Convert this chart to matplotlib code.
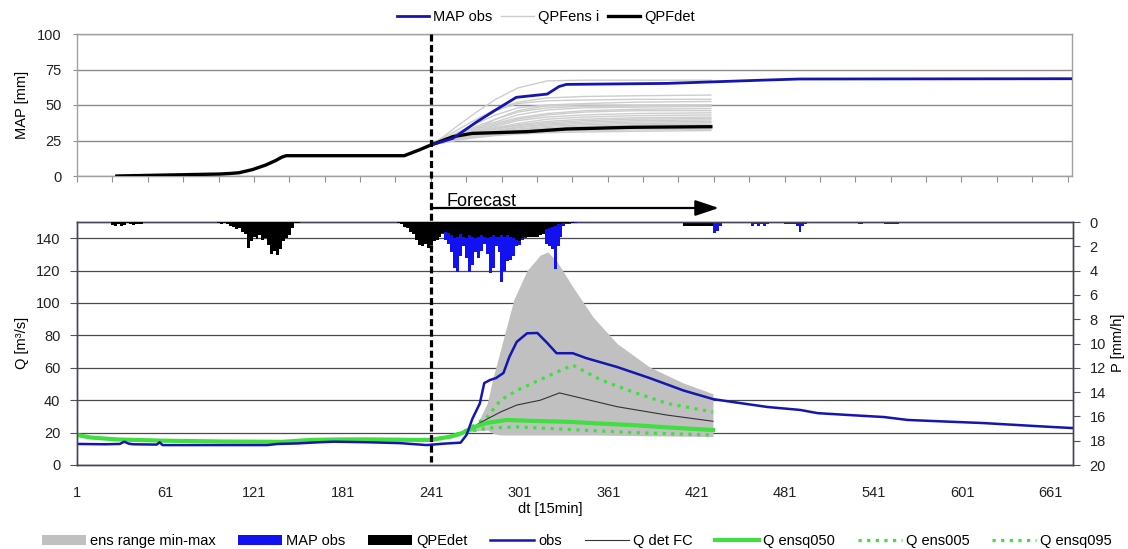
import numpy as np
import matplotlib
matplotlib.use('Agg')
import matplotlib.pyplot as plt
from matplotlib.lines import Line2D
from matplotlib.patches import Patch
import matplotlib.transforms as mtransforms

plt.rcParams['font.family'] = ['Liberation Sans', 'DejaVu Sans']

# ---------------- data: top panel (cumulative MAP, mm) ----------------
qpf_det_steps = [28, 98, 105, 111, 120, 129, 136, 140, 143, 223, 233, 241,
                 256, 269, 306, 333, 378, 431]
qpf_det_vals = [0, 1.4, 1.8, 2.3, 4.5, 7.7, 11.0, 13.3, 14.3, 14.3, 18.3, 21.8,
                27.7, 30.0, 31.2, 33.1, 34.3, 34.7]

map_cum_steps = [241, 256, 272, 285, 299, 320, 328, 333, 401, 435, 469, 491, 676]
map_cum_vals = [21.8, 26.5, 38.0, 46.5, 55.4, 57.7, 63.0, 64.5, 65.2, 66.4, 67.6, 68.3, 68.5]

ens_cum_steps = [241, 250, 260, 272, 285, 300, 320, 345, 380, 431]
ens_cum_members = [
    [22, 28, 36, 45, 54, 62, 67, 67.5, 67.5, 67.5],
    [22, 27, 33, 40, 47, 52, 55, 56, 56.5, 57],
    [22, 26, 31, 37, 43, 48, 50, 51, 52, 52.5],
    [22, 26, 30, 35, 40, 45, 48, 49, 49.5, 50],
    [22, 25.5, 29.5, 34, 38, 43, 46.5, 48, 48.5, 49],
    [22, 25, 29, 33, 37, 41, 44, 46, 47, 47.5],
    [22, 25, 28.5, 32, 36, 40, 43, 45, 46, 46],
    [22, 25, 28, 31.5, 35, 39, 41.5, 43, 44, 44.5],
    [22, 24.5, 28, 31, 34, 37, 40, 41.5, 42.5, 43],
    [22, 24.5, 27.5, 30.5, 33.5, 36, 38.5, 40, 41, 41.5],
    [22, 24.5, 27, 30, 33, 35.5, 37.5, 39, 40, 40.5],
    [22, 24, 27, 29.5, 32, 34.5, 36.5, 38, 39, 39.5],
    [22, 24, 26.5, 29, 31.5, 34, 36, 37, 38, 38.5],
    [22, 24, 26.5, 29, 31, 33, 35, 36, 37, 37.5],
    [22, 24, 26, 28.5, 30.5, 32.5, 34, 35, 36, 36.5],
    [22, 23.5, 26, 28, 30, 32, 33.5, 34.5, 35, 35.5],
    [22, 23.5, 25.5, 27.5, 29, 30.5, 31.5, 32, 32.5, 33],
    [22, 23.5, 25.5, 27, 28.5, 29.5, 30.5, 31, 31.5, 32],
    [22, 24.5, 28, 33, 40, 46, 49.5, 50, 50, 50],
    [22, 25, 30, 38, 46, 51, 53, 53.5, 54, 54],
]

# ---------------- data: bottom panel (discharge, m3/s) ----------------
obs_steps = [1, 20, 30, 33, 36, 39, 55, 57, 59, 80, 130, 137, 150, 164, 175, 200,
             220, 238, 250, 261, 265, 269, 274, 277, 281, 285, 290, 294, 299, 306,
             313, 320, 326, 337, 346, 367, 389, 412, 432, 446, 469, 491, 503, 525,
             548, 564, 593, 615, 638, 661, 676]
obs_vals = [13, 12.8, 13, 14.4, 13.2, 12.8, 12.6, 14, 12.3, 12.3, 12.3, 13, 13.3,
            14, 14.4, 14, 13.5, 12.3, 13.2, 13.8, 18.6, 28.6, 38, 50.6, 52.5, 53.7,
            56.8, 66.7, 76, 81.3, 81.5, 75, 69, 69, 66, 60.5, 53.7, 46, 40.7, 38.8,
            35.8, 34, 32, 30.8, 29.6, 27.8, 26.7, 25.9, 24.7, 23.5, 22.8]

q050_steps = [1, 10, 28, 60, 100, 140, 160, 180, 200, 230, 241, 254, 260, 265, 272,
              279, 292, 310, 333, 355, 378, 405, 432]
q050_vals = [18.5, 17, 15.8, 15, 14.5, 14.3, 15.5, 15.8, 15.8, 15.5, 15.5, 17.5, 19,
             21, 24, 26, 27.8, 27.2, 26.7, 25.6, 24.6, 23, 21.6]

q005_steps = [241, 254, 265, 279, 299, 333, 378, 432]
q005_vals = [15.5, 17.5, 20.5, 22.8, 23.5, 22, 20, 18.5]

q095_steps = [241, 254, 265, 279, 288, 299, 310, 322, 337, 356, 378, 401, 432]
q095_vals = [15.5, 17.5, 21.5, 29.6, 40, 46, 50.6, 55.6, 61.7, 52.5, 45, 38, 32.7]

qdet_steps = [241, 254, 265, 274, 288, 299, 315, 328, 344, 367, 401, 432]
qdet_vals = [15.5, 17.5, 21, 26, 32.7, 37, 40, 44.5, 41, 36, 30.8, 27]

ens_steps = [241, 254, 265, 272, 279, 283, 288, 297, 306, 315, 320, 326, 337, 351,
             367, 389, 412, 432]
ens_max = [15.5, 17.5, 21.5, 25, 38, 54, 71, 102, 120, 129.6, 131.5, 126, 110, 91,
           75, 60.5, 50.6, 44]
ens_min = [15.5, 17.5, 20, 21, 21.6, 19.5, 18.5, 18.5, 18.5, 18.5, 18.5, 18.5, 18.5,
           18.5, 18.3, 18, 17.8, 17.5]

# ---------------- data: precipitation bars (mm/h, 2-step bins) ----------------
qpe_a_start = 24
qpe_a = [0.25, 0.3, 0.2, 0.3, 0.25, 0.1, 0.2, 0.25, 0.2, 0.15, 0.2]
qpe_b_start = 96
qpe_b = [0.1, 0.15, 0.1, 0.2, 0.3, 0.4, 0.6, 0.5, 0.8, 1.0, 2.1, 1.6, 1.2, 1.4, 1.1,
         1.5, 1.3, 1.9, 2.6, 2.4, 2.7, 2.2, 1.6, 1.3, 1.1, 0.5, 0.1, 0.05]
qpe_c_start = 218
qpe_c = [0.1, 0.2, 0.4, 0.5, 0.8, 1.0, 1.5, 1.9, 2.0, 1.8, 2.1, 1.9, 1.6, 1.5, 1.2,
         0.9, 0.8, 0.9, 1.1, 1.3, 1.2, 1.0, 1.2, 1.3, 1.1, 1.2, 1.3, 1.2, 1.1, 1.2,
         1.3, 1.2, 1.1, 1.2, 1.2, 1.1, 1.2, 1.1, 1.2, 1.3, 1.5, 1.6, 1.3, 1.2, 1.2,
         1.2, 1.2, 1.2, 1.1, 1.0, 0.6, 0.5, 0.4, 0.3, 0.2, 0.15, 0.1, 0.1, 0.05, 0.05]
qpe_sparse_steps = [356, 360, 374, 376, 378, 380, 382, 384, 386, 388, 412, 414, 416,
                    418, 420, 422, 424, 426, 428, 430]
qpe_sparse_vals = [0.05, 0.05, 0.1, 0.1, 0.12, 0.1, 0.1, 0.12, 0.1, 0.1, 0.3, 0.35,
                   0.3, 0.3, 0.35, 0.3, 0.3, 0.35, 0.3, 0.3]

map_c_start = 244
map_c = [1.5, 1.2, 1.0, 1.5, 1.8, 2.5, 3.8, 4.1, 2.8, 2.0, 3.0, 4.1, 3.5, 2.5, 3.0,
         2.4, 1.8, 2.6, 4.2, 3.8, 2.0, 2.5, 4.9, 4.0, 3.2, 3.1, 2.8, 2.0, 1.9, 1.5,
         1.3, 1.2, 1.1, 1.0, 0.9, 0.8, 1.0, 1.8, 2.0, 2.2, 3.9, 2.0, 1.2, 0.3, 0.2,
         0.15, 0.1, 0.1]
map_sparse_steps = [432, 434, 436, 458, 460, 462, 464, 466, 468, 480, 482, 484, 486,
                    488, 490, 492, 494, 530, 532, 548, 550, 552, 554, 556, 588, 611]
map_sparse_vals = [0.9, 0.7, 0.3, 0.3, 0.2, 0.3, 0.2, 0.3, 0.2, 0.15, 0.2, 0.2, 0.15,
                   0.3, 0.8, 0.3, 0.2, 0.2, 0.15, 0.2, 0.15, 0.2, 0.2, 0.15, 0.1, 0.1]

x_ticks_top = list(range(1, 676, 24))
x_ticks_bottom = list(range(1, 662, 60))
forecast_start = 241
forecast_end = 436

# ---------------- styles ----------------
C_OBS = '#1515b0'
C_MAPBAR = '#1212f0'
C_GREEN = '#3fdf3f'
C_ENS = '#c0c0c0'
C_ENSLINE = '#cdcdcd'

fig = plt.figure(figsize=(11.28, 5.49), dpi=100)
axt = fig.add_axes([77 / 1128, 1 - 176 / 549, 995 / 1128, 142 / 549])
axb = fig.add_axes([77 / 1128, 1 - 465 / 549, 996 / 1128, 243 / 549])
ax2 = axb.twinx()

# ---- top panel ----
for m in ens_cum_members:
    axt.plot(ens_cum_steps, m, color=C_ENSLINE, lw=1.0, zorder=2)
axt.plot(qpf_det_steps, qpf_det_vals, color='black', lw=2.4, zorder=3)
axt.plot(map_cum_steps, map_cum_vals, color=C_OBS, lw=2.0, zorder=4)
axt.set_xlim(1, 676)
axt.set_ylim(0, 100)
axt.set_yticks([0, 25, 50, 75, 100])
axt.set_xticks(x_ticks_top)
axt.set_xticklabels([])
axt.yaxis.grid(True, color='#8a8a8a', lw=1.0)
axt.set_axisbelow(True)
for s in axt.spines.values():
    s.set_color('#a0a0a0')
    s.set_linewidth(1.0)
axt.tick_params(axis='x', direction='out', length=4, color='#909090')
axt.tick_params(axis='y', direction='out', length=3, color='#909090', pad=8,
                labelsize=10.5, labelcolor='#222222')

# ---- bottom panel ----
axb.fill_between(ens_steps, ens_min, ens_max, color=C_ENS, lw=0, zorder=2)
axb.plot(q005_steps, q005_vals, color=C_GREEN, lw=2.3, ls=(0, (1, 1.7)), zorder=3)
axb.plot(q095_steps, q095_vals, color=C_GREEN, lw=2.3, ls=(0, (1, 1.7)), zorder=3)
axb.plot(qdet_steps, qdet_vals, color='#333333', lw=0.8, zorder=3)
axb.plot(q050_steps, q050_vals, color=C_GREEN, lw=3.0, zorder=4)
axb.plot(obs_steps, obs_vals, color=C_OBS, lw=1.8, zorder=5)
axb.set_xlim(1, 676)
axb.set_ylim(0, 150)
axb.set_yticks(list(range(0, 141, 20)))
axb.set_xticks(x_ticks_bottom)
axb.set_xticklabels([str(v) for v in x_ticks_bottom])
axb.yaxis.grid(True, color='#4a4a4a', lw=0.9)
axb.set_axisbelow(True)
axb.tick_params(axis='x', length=0, pad=15, labelsize=10.5, labelcolor='#222222')
axb.tick_params(axis='y', direction='out', length=5, color='#505060', pad=7,
                labelsize=10.5, labelcolor='#222222')
for s in axb.spines.values():
    s.set_color('#454555')
    s.set_linewidth(1.0)

# precipitation bars on inverted right axis
ax2.set_ylim(20, 0)
ax2.set_yticks(list(range(0, 21, 2)))
ax2.tick_params(axis='y', direction='out', length=5, color='#505060', pad=7,
                labelsize=10.5, labelcolor='#222222')
for s in ax2.spines.values():
    s.set_color('#454555')
    s.set_linewidth(1.0)

def bars(ax, start, vals, color):
    xs = start + 2 * np.arange(len(vals))
    ax.bar(xs, vals, width=2.0, align='edge', color=color, lw=0, zorder=3)

bars(ax2, map_c_start, map_c, C_MAPBAR)
ax2.bar(map_sparse_steps, map_sparse_vals, width=2.0, align='edge', color=C_MAPBAR, lw=0)
bars(ax2, qpe_a_start, qpe_a, 'black')
bars(ax2, qpe_b_start, qpe_b, 'black')
bars(ax2, qpe_c_start, qpe_c, 'black')
ax2.bar(qpe_sparse_steps, qpe_sparse_vals, width=2.0, align='edge', color='black', lw=0)

# ---- forecast marker ----
trans = mtransforms.blended_transform_factory(axb.transData, fig.transFigure)
vline = Line2D([forecast_start, forecast_start], [1 - 34 / 549, 1 - 462 / 549],
               transform=trans, color='black', lw=2.3, dashes=(2.2, 1.1), zorder=10)
fig.add_artist(vline)
axb.annotate('', xy=(forecast_end, 1 - 208 / 549), xytext=(forecast_start, 1 - 208 / 549),
             xycoords=trans, textcoords=trans, annotation_clip=False,
             arrowprops=dict(arrowstyle='-|>,head_length=0.9,head_width=0.3', lw=1.6,
                             color='black', shrinkA=0, shrinkB=0, mutation_scale=16))
fig.text(446 / 1128, 1 - 206 / 549, 'Forecast', fontsize=13, va='baseline', ha='left')

# ---- labels ----
fig.text(22 / 1128, 1 - 105 / 549, 'MAP [mm]', rotation=90, ha='center', va='center',
         fontsize=10.5)
fig.text(22 / 1128, 1 - 343 / 549, 'Q [m³/s]', rotation=90, ha='center', va='center',
         fontsize=10.5)
fig.text(1118 / 1128, 1 - 343 / 549, 'P [mm/h]', rotation=90, ha='center', va='center',
         fontsize=10.5)
fig.text(550 / 1128, 1 - 509 / 549, 'dt [15min]', ha='center', va='center', fontsize=10.5)

# ---- legends ----
top_handles = [Line2D([], [], color=C_OBS, lw=2.0),
               Line2D([], [], color=C_ENSLINE, lw=1.0),
               Line2D([], [], color='black', lw=2.4)]
fig.legend(top_handles, ['MAP obs', 'QPFens i', 'QPFdet'], loc='center',
           bbox_to_anchor=(546 / 1128, 1 - 17 / 549), ncol=3, frameon=False,
           fontsize=10.5, handlelength=2.2, handletextpad=0.3, columnspacing=0.6)

bot_handles = [Patch(facecolor=C_ENS, lw=0), Patch(facecolor=C_MAPBAR, lw=0),
               Patch(facecolor='black', lw=0),
               Line2D([], [], color=C_OBS, lw=1.8),
               Line2D([], [], color='#333333', lw=0.8),
               Line2D([], [], color=C_GREEN, lw=3.0),
               Line2D([], [], color=C_GREEN, lw=2.3, ls=(0, (1, 1.7))),
               Line2D([], [], color=C_GREEN, lw=2.3, ls=(0, (1, 1.7)))]
bot_labels = ['ens range min-max', 'MAP obs', 'QPEdet', 'obs', 'Q det FC',
              'Q ensq050', 'Q ens005', 'Q ensq095']
fig.legend(bot_handles, bot_labels, loc='center', bbox_to_anchor=(577 / 1128, 1 - 541 / 549),
           ncol=8, frameon=False, fontsize=10.5, handlelength=3.0, handletextpad=0.3,
           columnspacing=1.55, borderaxespad=0, borderpad=0)

fig.savefig('out.png', dpi=100)
